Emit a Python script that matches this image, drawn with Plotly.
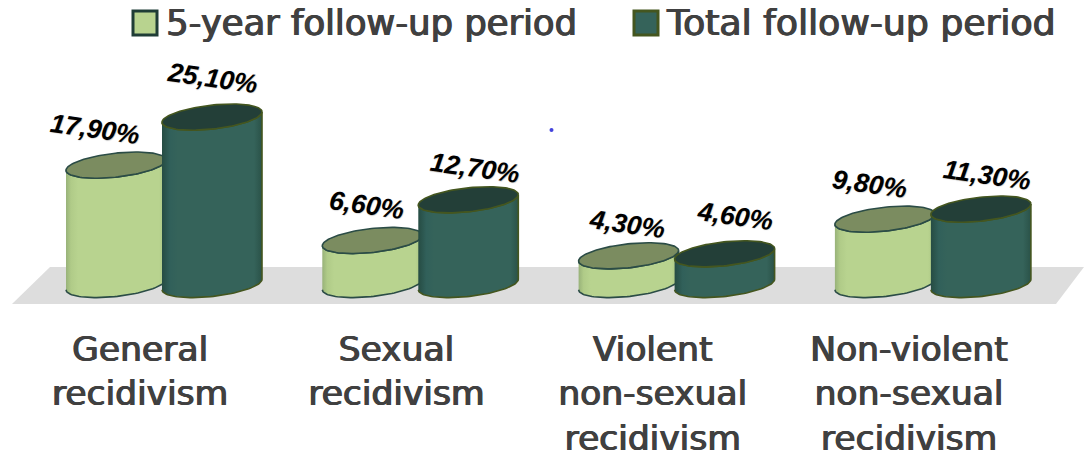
import numpy as np
import plotly.graph_objects as go

# ---- data ----
categories = ["General<br>recidivism", "Sexual<br>recidivism",
              "Violent<br>non-sexual<br>recidivism", "Non-violent<br>non-sexual<br>recidivism"]
series_names = ["5-year follow-up period", "Total follow-up period"]
five_year = [17.9, 6.6, 4.3, 9.8]
total = [25.1, 12.7, 4.6, 11.3]
five_year_labels = ["17,90%", "6,60%", "4,30%", "9,80%"]
total_labels = ["25,10%", "12,70%", "4,60%", "11,30%"]

# ---- layout constants ----
W, H = 1084, 453
PLOT_H = 325          # plot area height in px
BASE_PX = 284.5       # pixel row of value 0
PX_PER_VAL = 6.67
GROUP_PX = 256.3
G0_PX = 164.0
LABEL_SHIFT = -24.0 / GROUP_PX
HALF_W = 50.0 / GROUP_PX
OFFSET = 48.0 / GROUP_PX
RY_PX = 12.0
SHEAR = -0.105        # px down per px right (tilted ellipses)
y_lo = (BASE_PX - PLOT_H) / PX_PER_VAL
y_hi = BASE_PX / PX_PER_VAL
x_lo = -G0_PX / GROUP_PX
x_hi = (W - G0_PX) / GROUP_PX

LIGHT = dict(edge="#2b4c46", top="#7b8c60",
             grad=[[0, "#98b279"], [0.05, "#b0cb88"], [0.12, "#b8d38f"], [0.93, "#b8d38f"], [1, "#a8c382"]])
DARK = dict(edge="#44561f", top="#233f38",
            grad=[[0, "#264c43"], [0.08, "#31605a"], [0.16, "#35635a"], [0.92, "#35635a"], [1, "#2a5248"]])


def ellipse(cx, val, t):
    a_px = HALF_W * GROUP_PX
    x = cx + HALF_W * np.cos(t)
    y = val - (RY_PX * np.sin(t) + SHEAR * a_px * np.cos(t)) / PX_PER_VAL
    return x, y


fig = go.Figure()


def cylinder(cx, val, st):
    front = np.linspace(np.pi, 0, 60)
    bx, by = ellipse(cx, 0.0, front)
    tx, ty = ellipse(cx, val, front[::-1])
    fig.add_trace(go.Scatter(
        x=np.r_[bx, tx], y=np.r_[by, ty], mode="lines", fill="toself",
        fillgradient=dict(type="horizontal", colorscale=st["grad"]),
        line=dict(color=st["edge"], width=1.6), hoverinfo="skip", showlegend=False))
    t = np.linspace(0, 2 * np.pi, 120)
    ex, ey = ellipse(cx, val, t)
    fig.add_trace(go.Scatter(
        x=ex, y=ey, mode="lines", fill="toself", fillcolor=st["top"],
        line=dict(color=st["edge"], width=1.6), hoverinfo="skip", showlegend=False))


for i in range(len(categories)):
    cylinder(i - OFFSET, five_year[i], LIGHT)
    cylinder(i + OFFSET, total[i], DARK)

# ---- value labels ----
DX_5 = [-21, -6, -2, -15]
DY_5 = [-36, -35, -32, -35]
DX_T = [0, 7, 10, 6]
DY_T = [-39, -32, -38, -34]
anns = []
for i in range(len(categories)):
    for v, lab, off, dx, dy in ((five_year[i], five_year_labels[i], -OFFSET, DX_5[i], DY_5[i]),
                                (total[i], total_labels[i], OFFSET, DX_T[i], DY_T[i])):
        anns.append(dict(x=i + off + dx / GROUP_PX, y=v - dy / PX_PER_VAL, text=f"<b><i>{lab}</i></b>",
                         showarrow=False, textangle=8, xanchor="center", yanchor="middle",
                         font=dict(family="Liberation Sans", size=26.5, color="#000000",
                                   shadow="0.5px 0.5px 1px #bbbbbb")))


def xp(p):
    return p / W


def yp(p):
    return 1 - p / PLOT_H


# ---- legend text ----
TXT_SHADOW = "0.8px 0 0 #404040, -0.5px 0 0 #404040"
anns.append(dict(xref="paper", yref="paper", x=xp(166), y=yp(22), text=series_names[0], showarrow=False,
                 xanchor="left", yanchor="middle", xshift=-2,
                 font=dict(family="DejaVu Sans", size=35.4, color="#404040", shadow=TXT_SHADOW)))
anns.append(dict(xref="paper", yref="paper", x=xp(666), y=yp(22), text=series_names[1], showarrow=False,
                 xanchor="left", yanchor="middle", xshift=-2,
                 font=dict(family="DejaVu Sans", size=36.2, color="#404040", shadow=TXT_SHADOW)))

shapes = [
    dict(type="path", xref="paper", yref="paper", layer="below", line=dict(width=0), fillcolor="#dddddd",
         path=f"M{xp(12)},{yp(304)} L{xp(1056)},{yp(304)} L{xp(1084)},{yp(267)} L{xp(50)},{yp(267)} Z"),
    dict(type="rect", xref="paper", yref="paper", x0=xp(133), x1=xp(157), y0=yp(35), y1=yp(11),
         fillcolor="#b8d38f", line=dict(color="#1f3d36", width=3)),
    dict(type="rect", xref="paper", yref="paper", x0=xp(634), x1=xp(658), y0=yp(35), y1=yp(11),
         fillcolor="#35635a", line=dict(color="#44561f", width=3)),
    dict(type="circle", xref="paper", yref="paper", x0=xp(549.5), x1=xp(553.5), y0=yp(132), y1=yp(128),
         fillcolor="#4444dd", line=dict(width=0)),
]

fig.update_layout(
    width=W, height=H, autosize=False,
    margin=dict(l=0, r=0, t=0, b=H - PLOT_H), paper_bgcolor="white", plot_bgcolor="rgba(0,0,0,0)",
    showlegend=False, annotations=anns, shapes=shapes,
    xaxis=dict(range=[x_lo, x_hi], tickvals=[i + LABEL_SHIFT for i in range(len(categories))], ticktext=categories,
               showgrid=False, zeroline=False, showline=False, ticks="", tickangle=0,
               tickfont=dict(family="DejaVu Sans", size=34.5, color="#404040", shadow=TXT_SHADOW),
               automargin=False, fixedrange=True),
    yaxis=dict(range=[y_lo, y_hi], visible=False, fixedrange=True),
)
fig.write_html("out.html", config={"displayModeBar": False},
               post_script="document.body.style.margin='0';document.documentElement.style.overflow='hidden';")
